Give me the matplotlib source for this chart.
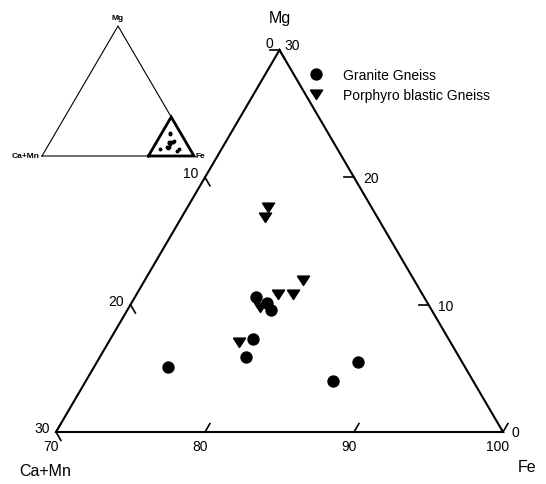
"""Ternary plot Ca+Mn - Mg - Fe (Fe-rich corner) with a small overview triangle."""

import matplotlib

matplotlib.use("Agg")

import matplotlib.pyplot as plt
import numpy as np
from matplotlib.lines import Line2D

# ---- data (percent) ----
granite_fe = [78.1, 79.1, 79.6, 79.6, 79.8, 75.0, 86.6, 87.5]
granite_mg = [10.6, 10.1, 9.6, 7.3, 5.9, 5.1, 4.0, 5.5]

porphyro_fe = [75.4, 75.6, 80.6, 79.5, 80.5, 78.8, 78.7]
porphyro_mg = [17.7, 16.9, 11.9, 10.8, 10.8, 9.8, 7.1]

series_labels = ["Granite Gneiss", "Porphyro blastic Gneiss"]

fe_ticks = [70, 80, 90, 100]
mg_ticks = [30, 20, 10, 0]
camn_ticks = [0, 10, 20, 30]

FE_MIN = 70
SPAN = 30
H = np.sqrt(3) / 2

TRI_MARKER = [(-1.0, 0.72), (1.0, 0.72), (0.0, -0.82), (-1.0, 0.72)]


def tern(fe, mg, lo=FE_MIN, span=SPAN):
    fe = np.asarray(fe, dtype=float)
    mg = np.asarray(mg, dtype=float)
    bf = (fe - lo) / span
    bm = mg / span
    return bf + bm / 2, bm * H


plt.rcParams.update(
    {
        "font.family": ["Liberation Sans", "DejaVu Sans"],
        "font.size": 10,
    }
)

fig = plt.figure(figsize=(5.46, 4.85), dpi=100)
fig.patch.set_facecolor("white")

# ---- main triangle ----
ax = fig.add_axes([56 / 546, (485 - 433) / 485, 447 / 546, 382 / 485])
ax.set_xlim(0, 1)
ax.set_ylim(0, H)
ax.axis("off")

cx, cy = tern([70, 100, 70, 70], [0, 0, 30, 0])
ax.plot(cx, cy, color="black", lw=1.5, clip_on=False, solid_joinstyle="miter")

tick_len = 0.022
tick_kw = dict(color="black", lw=1.2, clip_on=False)
label_kw = dict(textcoords="offset pixels", ha="center", va="center", fontsize=10)

# Fe along the bottom; ticks point up-right
for v in fe_ticks:
    x0, y0 = tern(v, 0)
    ax.plot([x0, x0 + 0.5 * tick_len], [y0, y0 + H * tick_len], **tick_kw)
    ax.annotate(str(v), (x0, y0), xytext=(-5, -14), **label_kw)

# Mg along the right edge; ticks point left
for v in mg_ticks:
    x0, y0 = tern(100 - v, v)
    ax.plot([x0, x0 - tick_len], [y0, y0], **tick_kw)
    off = (13, 5) if v == 30 else (12, 0) if v == 0 else (17, -1)
    ax.annotate(str(v), (x0, y0), xytext=off, **label_kw)

# Ca+Mn along the left edge; ticks point down-right
for v in camn_ticks:
    x0, y0 = tern(70, 30 - v)
    ax.plot([x0, x0 + 0.5 * tick_len], [y0, y0 - H * tick_len], **tick_kw)
    off = (-10, 7) if v == 0 else (-14, 4)
    ax.annotate(str(v), (x0, y0), xytext=off, **label_kw)

# corner names
ax.annotate("Mg", tern(70, 30), xytext=(0, 33), textcoords="offset pixels",
            ha="center", va="center", fontsize=11.5)
ax.annotate("Ca+Mn", tern(70, 0), xytext=(-11, -39), textcoords="offset pixels",
            ha="center", va="center", fontsize=11.5)
ax.annotate("Fe", tern(100, 0), xytext=(24, -35), textcoords="offset pixels",
            ha="center", va="center", fontsize=11.5)

gx, gy = tern(granite_fe, granite_mg)
px, py = tern(porphyro_fe, porphyro_mg)
ax.plot(gx, gy, "o", ms=7.9, color="black", mec="black", clip_on=False, zorder=3)
ax.plot(px, py, linestyle="none", marker=TRI_MARKER, ms=8.8, color="black",
        mec="black", clip_on=False, zorder=3)

handles = [
    Line2D([], [], ls="none", marker="o", ms=7.9, color="black"),
    Line2D([], [], ls="none", marker=TRI_MARKER, ms=8.8, color="black"),
]
fig.legend(
    handles,
    series_labels,
    loc="upper left",
    bbox_to_anchor=(308 / 546, 1 - 69 / 485),
    frameon=False,
    fontsize=10,
    handlelength=1.2,
    handletextpad=1.3,
    labelspacing=0.45,
    borderpad=0,
    borderaxespad=0,
)

# ---- overview triangle ----
ins = fig.add_axes([42 / 546, (485 - 157) / 485, 152 / 546, 130 / 485])
ins.set_xlim(0, 1)
ins.set_ylim(0, H)
ins.axis("off")

ox, oy = tern([0, 100, 0, 0], [0, 0, 100, 0], lo=0, span=100)
ins.plot(ox, oy, color="black", lw=0.8, clip_on=False)
sx, sy = tern([70, 100, 70, 70], [0, 0, 30, 0], lo=0, span=100)
ins.plot(sx, sy, color="black", lw=2.0, clip_on=False, solid_joinstyle="miter")

igx, igy = tern(granite_fe, granite_mg, lo=0, span=100)
ipx, ipy = tern(porphyro_fe, porphyro_mg, lo=0, span=100)
ins.plot(igx, igy, "o", ms=1.8, color="black", clip_on=False)
ins.plot(ipx, ipy, "o", ms=1.8, color="black", clip_on=False)

small = dict(textcoords="offset pixels", fontsize=6, fontweight="bold")
ins.annotate("Mg", tern(0, 100, lo=0, span=100), xytext=(0, 9), ha="center", va="center", **small)
ins.annotate("Ca+Mn", tern(0, 0, lo=0, span=100), xytext=(-2, 0), ha="right", va="center", **small)
ins.annotate("Fe", tern(100, 0, lo=0, span=100), xytext=(2, 0), ha="left", va="center", **small)

fig.savefig("out.png", dpi=100, facecolor="white")
